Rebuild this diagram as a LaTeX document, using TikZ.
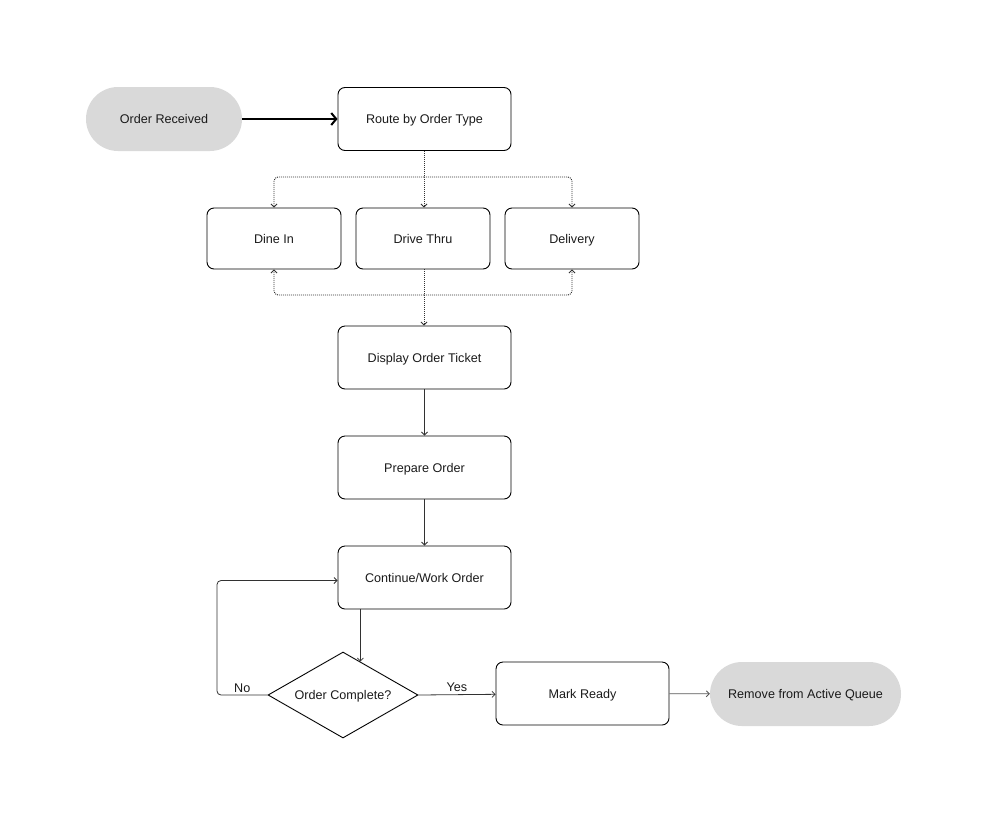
\documentclass[tikz,border=0pt]{standalone}
\usepackage{fontspec}
\setmainfont{Liberation Sans}
\definecolor{PillGray}{RGB}{217,217,217}
\definecolor{LineGray}{RGB}{50,50,50}
\definecolor{TextDark}{RGB}{26,26,26}
\usetikzlibrary{shapes.geometric, arrows.meta, calc}

\begin{document}
\begin{tikzpicture}[x=1pt,y=-1pt,
	every node/.style={font=\fontsize{12.6}{14}\selectfont, text=TextDark, text height=9.5pt, text depth=0.5pt},
	box/.style={draw, rounded corners=7pt, minimum width=173pt, minimum height=63pt, inner sep=0pt, line width=0.9pt},
	smallbox/.style={box, minimum width=134pt, minimum height=61pt},
	pill/.style={fill=PillGray, rounded corners=32pt, minimum height=64pt, inner sep=0pt},
	decision/.style={draw, diamond, aspect=1.74, minimum width=150pt, minimum height=86pt, inner sep=0pt, line width=0.9pt},
	arr/.style={draw=LineGray, line width=0.8pt, -{Straight Barb[length=3pt,width=6pt]}},
	dotline/.style={arr, line width=0.9pt, dash pattern=on 1pt off 1pt, rounded corners=4pt}]
	\useasboundingbox (0,0) rectangle (987,825);

	% nodes
	\node[pill, minimum width=156pt] (recv) at (164,119) {Order Received};
	\node[box] (route) at (424.5,119) {Route by Order Type};

	\node[smallbox] (dine) at (274,238.5) {Dine In};
	\node[smallbox] (drive) at (423,238.5) {Drive Thru};
	\node[smallbox] (delivery) at (572,238.5) {Delivery};

	\node[box] (display) at (424.5,357.5) {Display Order Ticket};
	\node[box] (prepare) at (424.5,467.5) {Prepare Order};
	\node[box] (work) at (424.5,577.5) {Continue/Work Order};

	\node[decision] (check) at (343,695) {Order Complete?};
	\node[box] (ready) at (582.5,693.5) {Mark Ready};
	\node[pill, minimum width=191pt] (remove) at (805.5,694) {Remove from Active Queue};

	\coordinate (split) at (424,177);
	\coordinate (join) at (424,295);
	\coordinate (loop) at (217,695);
	\coordinate (hit) at ($(check.north)!0.23!(check.east)$);

	% connectors
	\draw[line width=2pt, -{Straight Barb[length=5pt,width=12pt]}] (recv) -- (route);

	\draw[dotline] (route.south -| split) -- (split) -- (split |- drive.north);
	\draw[dotline] (split) -| (dine.north);
	\draw[dotline] (split) -| (delivery.north);

	\draw[dotline] (drive.south -| join) -- (join) -- (join |- display.north);
	\draw[dotline] (join) -| (dine.south);
	\draw[dotline] (join) -| (delivery.south);

	\draw[arr] (display) -- (prepare);
	\draw[arr] (prepare) -- (work);
	\draw[arr] (work.south -| hit) -- (hit);

	\draw[arr, rounded corners=4pt] (check.west) -- node[above, inner sep=2pt] (no) {No} (loop) |- ([yshift=-3pt]work.west);
	\draw[arr] (check.east) -- node[above, inner sep=2pt] (yes) {Yes} (ready);
	\draw[arr, draw=black!65] (ready) -- (remove);
\end{tikzpicture}
\end{document}
